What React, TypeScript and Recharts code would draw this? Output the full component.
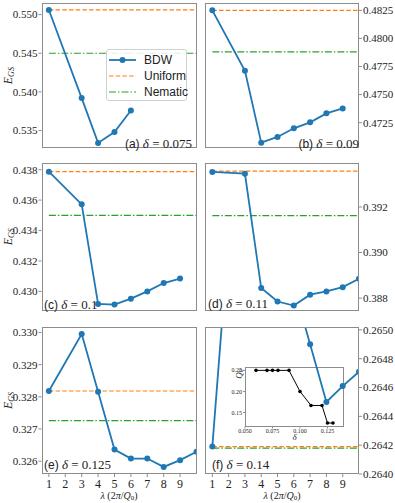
import React from 'react'
import { LineChart, Line, XAxis, YAxis } from 'recharts'

const SERIF = '"Liberation Serif", "DejaVu Serif", serif'
const SANS = '"Liberation Sans", Arial, sans-serif'
const BLUE = '#1f77b4'
const ORANGE = '#ff7f0e'
const GREEN = '#2ca02c'
const FRAME = '#8c8c8c'
const INK = '#222'

// lambda in units of 2pi/Q0
const lambdaTicks = [1, 2, 3, 4, 5, 6, 7, 8, 9]
const lambdaA = [1, 3, 4, 5, 6]
const lambda9 = [1, 3, 4, 5, 6, 7, 8, 9]
const lambda10 = [1, 3, 4, 5, 6, 7, 8, 9, 10]

// ground state energies, BDW
const bdwA = [0.5506, 0.5392, 0.5334, 0.5348, 0.5376]
const bdwB = [0.4825, 0.47712, 0.47072, 0.47123, 0.472, 0.47253, 0.47333, 0.47377]
const bdwC = [0.43787, 0.43572, 0.42917, 0.42913, 0.42952, 0.43, 0.43055, 0.43084]
const bdwD = [0.39354, 0.39346, 0.38844, 0.38785, 0.38767, 0.38815, 0.38829, 0.38848, 0.38885]
const bdwE = [0.32818, 0.32995, 0.32816, 0.32636, 0.32608, 0.32608, 0.32582, 0.32603, 0.32629]
const bdwF = [0.26419, 0.2671, 0.2662, 0.2657, 0.2653, 0.2649, 0.2645, 0.26461, 0.26471]

// uniform / nematic reference energies per panel (a..f)
const uniformE = [0.5506, 0.4825, 0.43787, 0.39357, 0.32818, 0.26419]
const nematicE = [0.545, 0.4788, 0.435, 0.39162, 0.32726, 0.26418]

// y ticks
const ticksA = [0.535, 0.54, 0.545, 0.55]
const ticksB = [0.4725, 0.475, 0.4775, 0.48, 0.4825]
const ticksC = [0.43, 0.432, 0.434, 0.436, 0.438]
const ticksD = [0.388, 0.39, 0.392]
const ticksE = [0.326, 0.327, 0.328, 0.329, 0.33]
const ticksF = [0.264, 0.2642, 0.2644, 0.2646, 0.2648, 0.265]

// inset: preferred Q0 vs doping
const insetDelta = [0.06, 0.07, 0.075, 0.08, 0.09, 0.1, 0.11, 0.12, 0.125, 0.13]
const insetQ0 = [0.25, 0.25, 0.25, 0.25, 0.25, 0.2, 0.1667, 0.1667, 0.125, 0.125]
const insetXTicks = [0.05, 0.075, 0.1, 0.125]
const insetYTicks = [0.15, 0.2, 0.25]

const EgsLabel = ({ cy }: { cy: number }) => (
    <text x={8} y={cy} transform={`rotate(-90 8 ${cy})`} textAnchor="middle" dominantBaseline="central"
        fontFamily={SERIF} fontSize={12} fill={INK}>
        <tspan fontStyle="italic">E</tspan>
        <tspan fontStyle="italic" fontSize={8} dy={3}>GS</tspan>
    </text>
)

const LambdaLabel = ({ cx, cy }: { cx: number; cy: number }) => (
    <text x={cx} y={cy} textAnchor="middle" dominantBaseline="central" fontFamily={SERIF} fontSize={10} fill={INK}>
        <tspan fontStyle="italic">λ</tspan> (2<tspan fontStyle="italic">π</tspan>/<tspan fontStyle="italic">Q</tspan>
        <tspan fontSize={7} dy={2.5}>0</tspan><tspan dy={-2.5}>)</tspan>
    </text>
)

type PanelProps = {
    x: number
    y: number
    w: number
    h: number
    side: 'left' | 'right'
    lam: number[]
    bdw: number[]
    uniform: number
    nematic: number
    domain: [number, number]
    ticks: number[]
    digits: number
    bottom: boolean
}

function Panel(p: PanelProps) {
    const padT = 3
    const padB = p.bottom ? 30 : 5
    const isLeft = p.side === 'left'
    const left = isLeft ? 0 : p.x - 5
    const axisW = isLeft ? p.x : 36
    const width = isLeft ? p.x + p.w + 3 : 5 + p.w + 36
    const height = p.h + padT + padB
    const series = p.lam.map((l, i) => ({ lam: l, v: p.bdw[i] }))
    const uni = [{ lam: 1, v: p.uniform }, { lam: 10.5, v: p.uniform }]
    const nem = [{ lam: 1, v: p.nematic }, { lam: 10.5, v: p.nematic }]
    const plotX = isLeft ? p.x : 5

    return (
        <>
            <div style={{ position: 'absolute', left, top: p.y - padT, width, height }}>
                <LineChart width={width} height={height}
                    margin={{ top: padT, bottom: 0, left: isLeft ? 0 : 5, right: isLeft ? 3 : 0 }}>
                    <XAxis type="number" dataKey="lam" domain={[0.55, 10]} allowDataOverflow
                        ticks={lambdaTicks} interval={0} height={padB}
                        axisLine={false} tickSize={3} tickMargin={2}
                        tickLine={{ stroke: FRAME }}
                        tick={p.bottom ? { fontFamily: SERIF, fontSize: 12, fill: INK } : false}
                        label={p.bottom ? <LambdaLabel cx={plotX + p.w / 2} cy={padT + p.h + 21} /> : undefined}
                    />
                    <YAxis type="number" orientation={p.side} width={axisW} domain={p.domain} allowDataOverflow
                        ticks={p.ticks} interval={0} axisLine={false} tickSize={3} tickMargin={1}
                        tickLine={{ stroke: FRAME }}
                        tick={{ fontFamily: SERIF, fontSize: 11, fill: INK }}
                        tickFormatter={(v: number) => v.toFixed(p.digits)}
                        label={isLeft ? <EgsLabel cy={padT + p.h / 2} /> : undefined}
                    />
                    <Line data={nem} dataKey="v" stroke={GREEN} strokeWidth={1.2} strokeDasharray="7 2 1.5 2"
                        dot={false} activeDot={false} isAnimationActive={false} />
                    <Line data={uni} dataKey="v" stroke={ORANGE} strokeWidth={1.2} strokeDasharray="4.5 2.2"
                        dot={false} activeDot={false} isAnimationActive={false} />
                    <Line data={series} dataKey="v" stroke={BLUE} strokeWidth={1.8}
                        dot={{ r: 3, fill: BLUE, stroke: BLUE, strokeWidth: 0 }} activeDot={false}
                        isAnimationActive={false} />
                </LineChart>
            </div>
            <div style={{
                position: 'absolute', left: p.x, top: p.y, width: p.w, height: p.h,
                border: `1px solid ${FRAME}`, boxSizing: 'border-box', pointerEvents: 'none'
            }} />
        </>
    )
}

function Inset() {
    const fx = 245, fy = 367.3, fw = 99, fh = 59.4
    const padT = 2, padB = 22, axisW = 30
    const width = axisW + fw + 3
    const height = padT + fh + padB
    const pts = insetDelta.map((d, i) => ({ d, q: insetQ0[i] }))
    return (
        <>
            <div style={{ position: 'absolute', left: fx, top: fy, width: fw, height: fh, background: '#fff' }} />
            <div style={{ position: 'absolute', left: fx - axisW, top: fy - padT, width, height }}>
                <LineChart width={width} height={height} data={pts} margin={{ top: padT, bottom: 0, left: 0, right: 3 }}>
                    <XAxis type="number" dataKey="d" domain={[0.05, 0.14]} ticks={insetXTicks} interval={0}
                        height={padB} axisLine={false} tickSize={2} tickMargin={0}
                        tickLine={{ stroke: FRAME }} tick={{ fontFamily: SERIF, fontSize: 6, fill: INK }}
                        tickFormatter={(v: number) => v.toFixed(3)}
                        label={<text x={axisW + fw / 2} y={padT + fh + 16.5} textAnchor="middle" dominantBaseline="central"
                            fontFamily={SERIF} fontStyle="italic" fontSize={9} fill={INK}>δ</text>}
                    />
                    <YAxis type="number" domain={[0.117, 0.258]} ticks={insetYTicks} interval={0} width={axisW}
                        axisLine={false} tickSize={2} tickMargin={1}
                        tickLine={{ stroke: FRAME }} tick={{ fontFamily: SERIF, fontSize: 6, fill: INK }}
                        tickFormatter={(v: number) => v.toFixed(2)}
                        label={<text x={8} y={16} transform="rotate(-90 8 16)" textAnchor="middle" dominantBaseline="central"
                            fontFamily={SERIF} fontSize={9} fill={INK}>
                            <tspan fontStyle="italic">Q</tspan><tspan fontSize={6} dy={2}>0</tspan>
                        </text>}
                    />
                    <Line dataKey="q" stroke="#000" strokeWidth={1} dot={{ r: 1.8, fill: '#000', stroke: '#000', strokeWidth: 0 }}
                        activeDot={false} isAnimationActive={false} />
                </LineChart>
            </div>
            <div style={{
                position: 'absolute', left: fx, top: fy, width: fw, height: fh,
                border: `1px solid ${FRAME}`, boxSizing: 'border-box', pointerEvents: 'none'
            }} />
        </>
    )
}

function Note({ x, y, tag, delta, align = 'left' }: { x: number; y: number; tag: string; delta: string; align?: 'left' | 'right' }) {
    const pos = align === 'left' ? { left: x } : { right: 395 - x }
    return (
        <div style={{
            position: 'absolute', top: y, ...pos, transform: 'translateY(-50%)',
            whiteSpace: 'nowrap', lineHeight: 1, color: INK
        }}>
            <span style={{ fontFamily: SANS, fontSize: 12 }}>{tag}</span>
            <span style={{ fontFamily: SERIF, fontSize: 13 }}> <i>δ</i> = {delta}</span>
        </div>
    )
}

const legendItems = [
    { name: 'BDW', color: BLUE, dash: undefined as string | undefined, width: 1.8, marker: true },
    { name: 'Uniform', color: ORANGE, dash: '4.5 2.2', width: 1.2, marker: false },
    { name: 'Nematic', color: GREEN, dash: '7 2 1.5 2', width: 1.2, marker: false },
]

function LegendBox() {
    return (
        <div style={{
            position: 'absolute', left: 106, top: 49, width: 81, height: 52,
            border: '1px solid #d0d0d0', borderRadius: 3, background: 'rgba(255,255,255,0.85)',
            boxSizing: 'border-box'
        }}>
            {legendItems.map((it, i) => (
                <div key={it.name} style={{ position: 'absolute', left: 2, top: 3 + i * 16, height: 14, display: 'flex', alignItems: 'center' }}>
                    <svg width={27} height={8}>
                        <line x1={0} y1={4} x2={27} y2={4} stroke={it.color} strokeWidth={it.width} strokeDasharray={it.dash} />
                        {it.marker && <circle cx={13.5} cy={4} r={3} fill={it.color} />}
                    </svg>
                    <span style={{ marginLeft: 8, fontFamily: SANS, fontSize: 12, color: INK }}>{it.name}</span>
                </div>
            ))}
        </div>
    )
}

export default function App() {
    const L = { x: 41.5, w: 155 }
    const R = { x: 205, w: 154 }
    const rows = [{ y: 3, h: 145.3 }, { y: 163.3, h: 147.4 }, { y: 327, h: 147 }]
    return (
        <div style={{ position: 'absolute', left: 0, top: 0, width: 395, height: 503, background: '#fff', overflow: 'hidden' }}>
            <Panel {...L} {...rows[0]} side="left" lam={lambdaA} bdw={bdwA} uniform={uniformE[0]} nematic={nematicE[0]}
                domain={[0.5327, 0.5515]} ticks={ticksA} digits={3} bottom={false} />
            <Panel {...R} {...rows[0]} side="right" lam={lambda9} bdw={bdwB} uniform={uniformE[1]} nematic={nematicE[1]}
                domain={[0.47022, 0.48315]} ticks={ticksB} digits={4} bottom={false} />
            <Panel {...L} {...rows[1]} side="left" lam={lambda9} bdw={bdwC} uniform={uniformE[2]} nematic={nematicE[2]}
                domain={[0.42875, 0.43844]} ticks={ticksC} digits={3} bottom={false} />
            <Panel {...R} {...rows[1]} side="right" lam={lambda10} bdw={bdwD} uniform={uniformE[3]} nematic={nematicE[3]}
                domain={[0.38746, 0.39393]} ticks={ticksD} digits={3} bottom={false} />
            <Panel {...L} {...rows[2]} side="left" lam={lambda10} bdw={bdwE} uniform={uniformE[4]} nematic={nematicE[4]}
                domain={[0.3256, 0.33017]} ticks={ticksE} digits={3} bottom={true} />
            <Inset />
            <Panel {...R} {...rows[2]} side="right" lam={lambda10} bdw={bdwF} uniform={uniformE[5]} nematic={nematicE[5]}
                domain={[0.264, 0.26502]} ticks={ticksF} digits={4} bottom={true} />
            <LegendBox />
            <Note x={192} y={143} tag="(a)" delta="0.075" align="right" />
            <Note x={359} y={143} tag="(b)" delta="0.09" align="right" />
            <Note x={44} y={304} tag="(c)" delta="0.1" />
            <Note x={208} y={303} tag="(d)" delta="0.11" />
            <Note x={44} y={464} tag="(e)" delta="0.125" />
            <Note x={212} y={464} tag="(f)" delta="0.14" />
        </div>
    )
}
